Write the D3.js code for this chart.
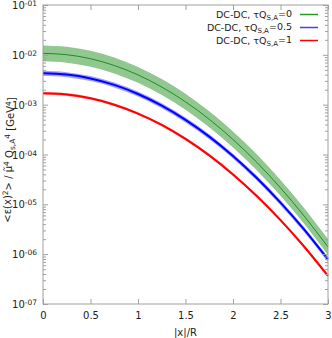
<!DOCTYPE html>
<html>
<head>
<meta charset="utf-8">
<script src="https://cdn.jsdelivr.net/npm/d3@7"></script>
<style>
  body { margin: 0; background: #fff; }
  text { font-family: "DejaVu Sans", sans-serif; }
</style>
</head>
<body>
<script>
// |x|/R sample points
var xVals = [0, 0.25, 0.5, 0.75, 1, 1.25, 1.5, 1.75, 2, 2.25, 2.5, 2.75, 3];

// tau Q_s,A = 0
var green   = [1.07e-2, 1.007e-2, 8.36e-3, 6.12e-3, 3.96e-3, 2.26e-3, 1.14e-3, 5.09e-4, 2.00e-4, 6.97e-5, 2.14e-5, 5.79e-6, 1.39e-6];
var greenHi = [1.546e-2, 1.455e-2, 1.208e-2, 8.84e-3, 5.72e-3, 3.27e-3, 1.65e-3, 7.36e-4, 2.89e-4, 1.007e-4, 3.09e-5, 8.37e-6, 2.01e-6];
var greenLo = [7.40e-3, 6.97e-3, 5.79e-3, 4.24e-3, 2.74e-3, 1.56e-3, 7.89e-4, 3.52e-4, 1.38e-4, 4.82e-5, 1.48e-5, 4.01e-6, 9.62e-7];

// tau Q_s,A = 0.5
var blue   = [4.26e-3, 4.01e-3, 3.35e-3, 2.49e-3, 1.64e-3, 9.57e-4, 4.95e-4, 2.28e-4, 9.31e-5, 3.37e-5, 1.08e-5, 3.10e-6, 7.83e-7];
var blueHi = [4.77e-3, 4.49e-3, 3.75e-3, 2.79e-3, 1.84e-3, 1.07e-3, 5.54e-4, 2.55e-4, 1.04e-4, 3.77e-5, 1.21e-5, 3.47e-6, 8.77e-7];
var blueLo = [3.79e-3, 3.57e-3, 2.98e-3, 2.22e-3, 1.46e-3, 8.52e-4, 4.41e-4, 2.03e-4, 8.29e-5, 3.00e-5, 9.61e-6, 2.76e-6, 6.97e-7];

// tau Q_s,A = 1
var red   = [1.69e-3, 1.60e-3, 1.34e-3, 9.98e-4, 6.62e-4, 3.91e-4, 2.05e-4, 9.59e-5, 3.98e-5, 1.47e-5, 4.83e-6, 1.41e-6, 3.67e-7];
var redHi = [1.81e-3, 1.71e-3, 1.43e-3, 1.07e-3, 7.08e-4, 4.18e-4, 2.19e-4, 1.03e-4, 4.26e-5, 1.57e-5, 5.17e-6, 1.51e-6, 3.93e-7];
var redLo = [1.58e-3, 1.50e-3, 1.25e-3, 9.33e-4, 6.19e-4, 3.66e-4, 1.92e-4, 8.97e-5, 3.72e-5, 1.37e-5, 4.52e-6, 1.32e-6, 3.43e-7];

var xTicks = [0, 0.5, 1, 1.5, 2, 2.5, 3];
var xTickLabels = ["0", "0.5", "1", "1.5", "2", "2.5", "3"];
var yExps = [-7, -6, -5, -4, -3, -2, -1];
var legendLabels = [["DC-DC, τQ", "S,A", "=0"], ["DC-DC, τQ", "S,A", "=0.5"], ["DC-DC, τQ", "S,A", "=1"]];

var W = 332, H = 338;
var margin = {left: 43, right: 328, top: 5, bottom: 304};
var axisColor = "#a0a0a0";
var fs = "10px", fsSmall = "7.5px";

var svg = d3.select("body").append("svg")
    .attr("width", W)
    .attr("height", H);

var xScale = d3.scaleLinear().domain([0, 3]).range([margin.left, margin.right]);
var yScale = d3.scaleLog().domain([1e-7, 1e-1]).range([margin.bottom, margin.top]);

var majorY = yExps.map(function(e) { return Math.pow(10, e); });
var minorY = [];
yExps.slice(0, -1).forEach(function(e) {
    for (var k = 2; k <= 9; k++) minorY.push(k * Math.pow(10, e));
});

var series = [
    {c: green, lo: greenLo, hi: greenHi, band: "#90c890", line: "#228b22", lw: 1, key: "#1ea01e"},
    {c: blue, lo: blueLo, hi: blueHi, band: "#a0a0ff", line: "#0000ff", lw: 2, key: "#4040ff"},
    {c: red, lo: redLo, hi: redHi, band: "#ffa0a0", line: "#ff0000", lw: 2, key: "#ff0000"}
];

var area = d3.area()
    .x(function(d) { return xScale(d[0]); })
    .y0(function(d) { return yScale(d[1]); })
    .y1(function(d) { return yScale(d[2]); })
    .curve(d3.curveMonotoneX);

var line = d3.line()
    .x(function(d) { return xScale(d[0]); })
    .y(function(d) { return yScale(d[1]); })
    .curve(d3.curveMonotoneX);

var plot = svg.append("g");
series.forEach(function(s) {
    var bandData = xVals.map(function(x, i) { return [x, s.lo[i], s.hi[i]]; });
    plot.append("path")
        .attr("d", area(bandData))
        .attr("fill", s.band)
        .attr("stroke", "none");
});
series.forEach(function(s) {
    var lineData = xVals.map(function(x, i) { return [x, s.c[i]]; });
    plot.append("path")
        .attr("d", line(lineData))
        .attr("fill", "none")
        .attr("stroke", s.line)
        .attr("stroke-width", s.lw);
});

// ticks on all four sides, pointing inward
function styleAxis(g) {
    g.select(".domain").remove();
    g.selectAll(".tick line").attr("stroke", axisColor);
    g.selectAll(".tick text").attr("fill", "#222").style("font-size", fs).style("font-family", "DejaVu Sans, sans-serif");
}

svg.append("g")
    .attr("transform", "translate(0," + margin.bottom + ")")
    .call(d3.axisBottom(xScale).tickValues(xTicks).tickSize(-5).tickPadding(8)
        .tickFormat(function(d, i) { return xTickLabels[i]; }))
    .call(styleAxis);

svg.append("g")
    .attr("transform", "translate(0," + margin.top + ")")
    .call(d3.axisTop(xScale).tickValues(xTicks).tickSize(-5).tickFormat(""))
    .call(styleAxis);

var yAxisG = svg.append("g")
    .attr("transform", "translate(" + margin.left + ",0)")
    .call(d3.axisLeft(yScale).tickValues(majorY).tickSize(-5).tickPadding(6).tickFormat(""))
    .call(styleAxis);

yAxisG.selectAll(".tick text").each(function(d) {
    var e = Math.round(Math.log10(d));
    var t = d3.select(this);
    t.text("10").attr("dy", "0.36em");
    t.append("tspan").attr("dy", "-0.4em").style("font-size", fsSmall)
        .text("-0" + Math.abs(e));
});

svg.append("g")
    .attr("transform", "translate(" + margin.left + ",0)")
    .call(d3.axisLeft(yScale).tickValues(minorY).tickSize(-3).tickFormat(""))
    .call(styleAxis);

svg.append("g")
    .attr("transform", "translate(" + margin.right + ",0)")
    .call(d3.axisRight(yScale).tickValues(majorY).tickSize(-5).tickFormat(""))
    .call(styleAxis);

svg.append("g")
    .attr("transform", "translate(" + margin.right + ",0)")
    .call(d3.axisRight(yScale).tickValues(minorY).tickSize(-3).tickFormat(""))
    .call(styleAxis);

svg.append("rect")
    .attr("x", margin.left).attr("y", margin.top)
    .attr("width", margin.right - margin.left).attr("height", margin.bottom - margin.top)
    .attr("fill", "none")
    .attr("stroke", axisColor)
    .attr("stroke-width", 1);

// axis titles
svg.append("text")
    .attr("x", (margin.left + margin.right) / 2)
    .attr("y", 336)
    .attr("text-anchor", "middle")
    .style("font-size", fs)
    .attr("fill", "#222")
    .text("|x|/R");

var yTitle = svg.append("text")
    .attr("transform", "translate(11,160) rotate(-90)")
    .attr("text-anchor", "middle")
    .style("font-size", "10px")
    .attr("fill", "#222");
yTitle.append("tspan").text("<ε(x)");
yTitle.append("tspan").attr("dy", "-0.4em").style("font-size", fsSmall).text("2");
yTitle.append("tspan").attr("dy", "0.4em").text("> / μ\u0303");
yTitle.append("tspan").attr("dy", "-0.4em").style("font-size", fsSmall).text("4");
yTitle.append("tspan").attr("dy", "0.4em").text(" Q");
yTitle.append("tspan").attr("dy", "0.2em").style("font-size", fsSmall).text("s,A");
yTitle.append("tspan").attr("dy", "-0.6em").style("font-size", fsSmall).text("4");
yTitle.append("tspan").attr("dy", "0.4em").text(" [GeV");
yTitle.append("tspan").attr("dy", "-0.4em").style("font-size", fsSmall).text("4");
yTitle.append("tspan").attr("dy", "0.4em").text("]");

// legend
var legend = svg.append("g");
legendLabels.forEach(function(lab, i) {
    var yy = 14.5 + i * 13;
    var t = legend.append("text")
        .attr("x", 292).attr("y", yy).attr("dy", "0.32em")
        .attr("text-anchor", "end")
        .style("font-size", "9.5px")
        .attr("fill", "#222");
    t.append("tspan").text(lab[0]);
    t.append("tspan").attr("dy", "0.3em").style("font-size", "7px").text(lab[1]);
    t.append("tspan").attr("dy", "-0.3em").text(lab[2]);
    legend.append("line")
        .attr("x1", 300).attr("x2", 318)
        .attr("y1", yy).attr("y2", yy)
        .attr("stroke", series[i].key)
        .attr("stroke-width", 1.5);
});
</script>
</body>
</html>
